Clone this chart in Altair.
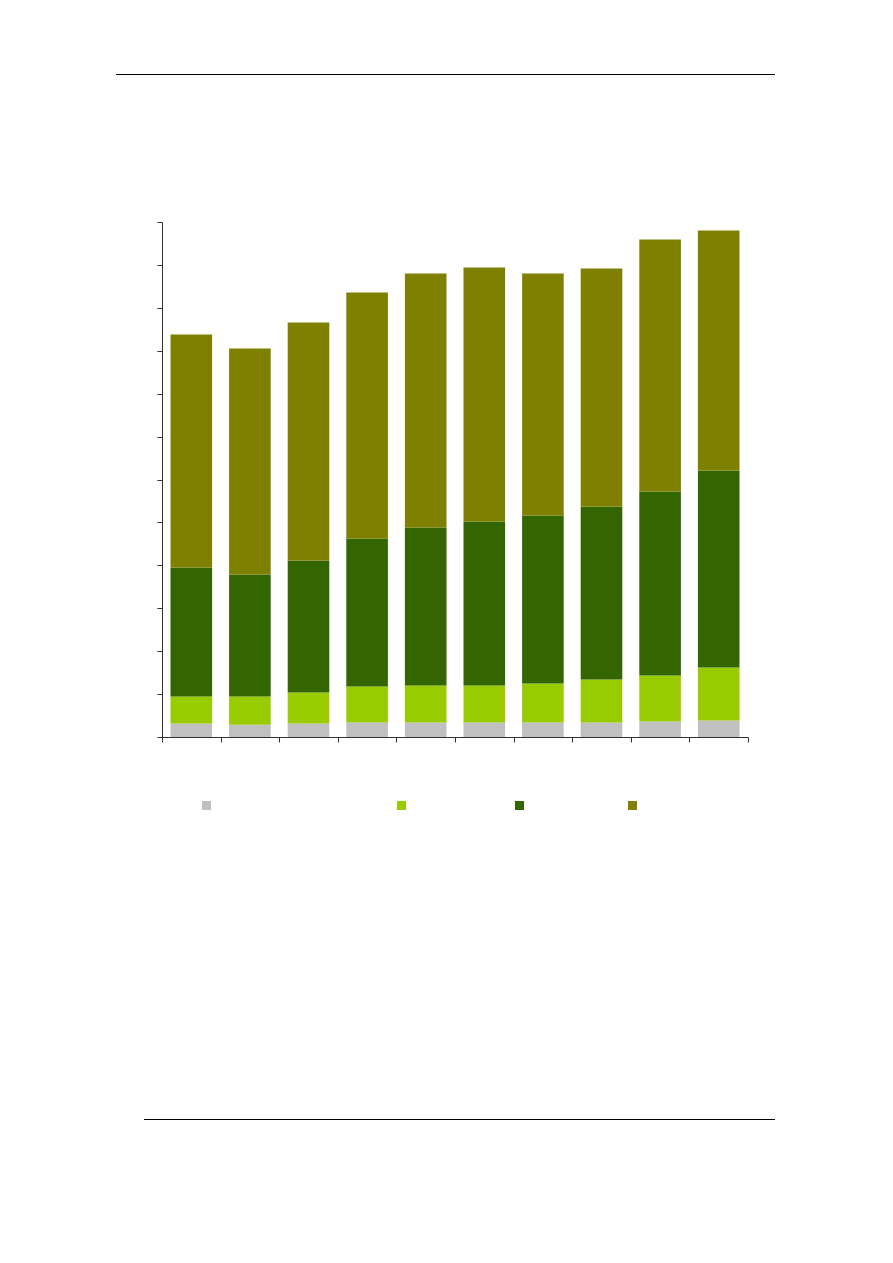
import altair as alt
import pandas as pd

# ten unlabelled bars (categories carry no visible text in the reference)
categories = ["1", "2", "3", "4", "5", "6", "7", "8", "9", "10"]
series = ["Serie 1", "Serie 2", "Serie 3", "Serie 4"]
colors = ["#C0C0C0", "#99CC00", "#336600", "#808000"]

s1 = [31.7, 28.7, 31.7, 34.0, 34.0, 34.0, 34.0, 34.0, 36.3, 38.7]
s2 = [62.9, 65.9, 72.2, 83.9, 86.2, 86.2, 90.9, 100.2, 107.2, 123.5]
s3 = [300.6, 284.3, 307.6, 344.9, 368.2, 382.2, 391.4, 403.1, 428.8, 459.0]
s4 = [542.9, 526.6, 554.5, 573.2, 591.8, 591.8, 563.9, 554.6, 587.2, 559.2]

rows = []
for i, c in enumerate(categories):
    for k, vals in enumerate([s1, s2, s3, s4]):
        rows.append({"cat": c, "series": series[k], "order": k, "value": vals[i]})
df = pd.DataFrame(rows)

# legend entries have no visible labels; blank labels of different widths keep the spacing
NBSP = "\u00a0"
ZW = "\u200b"
blank_widths = [77, 45, 43, 1]


def blank(n):
    return ZW + NBSP * n + ZW


label_expr = " : ".join(
    f"datum.label == '{s}' ? '{blank(w)}'" for s, w in zip(series[:-1], blank_widths[:-1])
) + f" : '{blank(blank_widths[-1])}'"

bars = alt.Chart(df).mark_bar(width=alt.RelativeBandSize(0.71)).encode(
    x=alt.X("cat:N", sort=categories,
            scale=alt.Scale(paddingInner=0, paddingOuter=0),
            axis=alt.Axis(title=None, labels=False, tickBand="extent", tickSize=5,
                          domainColor="#333333", tickColor="#333333",
                          domainWidth=1, tickWidth=1, grid=False)),
    y=alt.Y("value:Q", stack="zero",
            scale=alt.Scale(domain=[0, 1200], nice=False),
            axis=alt.Axis(title=None, labels=False, values=list(range(0, 1201, 100)),
                          tickSize=5, domainColor="#333333", tickColor="#333333",
                          domainWidth=1, tickWidth=1, grid=False)),
    color=alt.Color("series:N", scale=alt.Scale(domain=series, range=colors),
                    legend=alt.Legend(title=None, orient="none", legendX=40, legendY=579,
                                      direction="horizontal", symbolType="square",
                                      symbolSize=81, symbolStrokeWidth=0,
                                      labelExpr=label_expr, labelFont="DejaVu Sans Mono",
                                      labelFontSize=4, labelLimit=1000, labelOffset=0,
                                      columnPadding=0, padding=0)),
    order=alt.Order("order:Q"),
)

one = pd.DataFrame({"k": [0]})
top_line = alt.Chart(one).mark_rule(color="#000000", strokeWidth=1).encode(
    x=alt.value(-46), x2=alt.value(613), y=alt.value(-147.5))
bottom_line = alt.Chart(one).mark_rule(color="#000000", strokeWidth=1).encode(
    x=alt.value(-18), x2=alt.value(613), y=alt.value(897.5))

chart = alt.layer(bars, top_line, bottom_line).properties(
    width=586, height=515,
    autosize=alt.AutoSizeParams(type="none"),
    padding={"left": 154, "top": 214, "right": 137, "bottom": 500},
    background="white",
).configure_view(strokeWidth=0, stroke=None)

chart.save("out.html", embed_options={"renderer": "svg", "actions": False})
